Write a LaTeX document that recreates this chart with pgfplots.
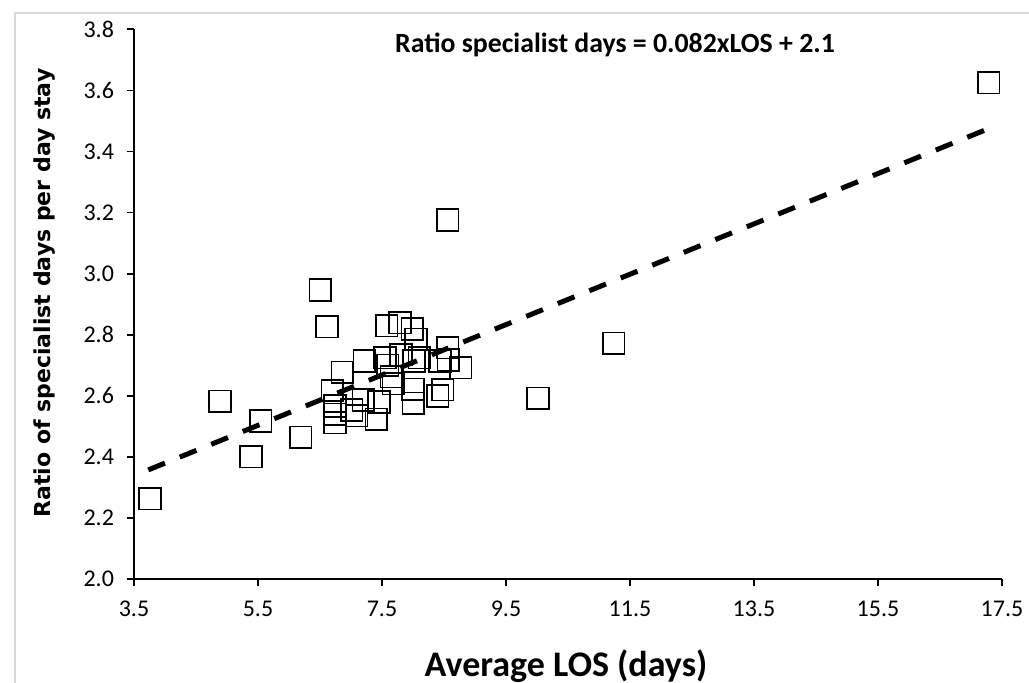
\documentclass[border=0pt]{standalone}
\usepackage{fontspec}
\setmainfont{Carlito}
\newfontfamily\ylabfont{DejaVu Sans}
\usepackage{pgfplots}
\pgfplotsset{compat=1.18}

\begin{document}
\begin{tikzpicture}
  % page = 1029 x 683 px, 1px = 0.5pt
  \useasboundingbox (0pt,0pt) rectangle (514.5pt,341.5pt);
  \draw[line width=0.6pt,black!15] (7.5pt,-5pt) -- (7.5pt,335pt) -- (520pt,335pt);

  \begin{axis}[
    at={(67pt,51.85pt)},
    anchor=south west,
    scale only axis,
    width=434pt,
    height=275pt,
    xmin=3.5, xmax=17.5,
    ymin=2.0, ymax=3.8,
    xtick={3.5,5.5,...,17.5},
    ytick={2.0,2.2,...,3.8},
    axis x line*=bottom,
    axis y line*=left,
    axis line style={black, line width=0.8pt, -},
    tick style={black, line width=0.8pt},
    tick align=outside,
    major tick length=3.5pt,
    /pgf/number format/assume math mode=true,
    /pgf/number format/.cd, fixed, fixed zerofill, precision=1, /pgfplots/.cd,
    tick label style={font=\fontsize{12}{14}\selectfont},
    xticklabel style={yshift=-4pt},
    yticklabel style={xshift=-3pt},
    clip=false,
  ]
    \addplot[only marks, mark=square, mark size=5.4pt,
      mark options={draw=black, fill=white, line width=0.85pt}]
      coordinates {
      (3.76,2.264) (4.887,2.583) (5.387,2.401) (5.543,2.518) (6.189,2.465)
      (6.505,2.947) (6.613,2.827) (6.70,2.618) (6.74,2.567) (6.74,2.512)
      (6.74,2.540) (6.86,2.677) (7.01,2.554) (7.09,2.535) (7.20,2.587)
      (7.215,2.714) (7.41,2.524) (7.45,2.580) (7.548,2.725) (7.576,2.830)
      (7.59,2.700) (7.65,2.663) (7.68,2.640) (7.79,2.840) (7.805,2.735)
      (7.99,2.819) (8.00,2.622) (8.005,2.576) (8.016,2.714) (8.05,2.785)
      (8.10,2.725) (8.40,2.600) (8.435,2.714) (8.48,2.620) (8.56,2.758)
      (8.57,2.718) (8.56,3.176) (8.77,2.692) (10.016,2.592) (11.237,2.772)
      (17.285,3.625)
    };
    % fitted trend line
    \addplot[black, line width=2.5pt, dash pattern=on 9pt off 8pt]
      coordinates {(3.73,2.358) (17.285,3.475)};
  \end{axis}

  \node[font=\bfseries\fontsize{13.9}{16}\selectfont] at (307.5pt,319pt)
    {Ratio specialist days = 0.082xLOS + 2.1};
  \node[font=\bfseries\fontsize{18}{20}\selectfont] at (283pt,8.5pt)
    {Average LOS (days)};
  \node[font=\ylabfont\bfseries\fontsize{11}{13}\selectfont, rotate=90] at (22.5pt,195pt)
    {Ratio of specialist days per day stay};
\end{tikzpicture}
\end{document}
